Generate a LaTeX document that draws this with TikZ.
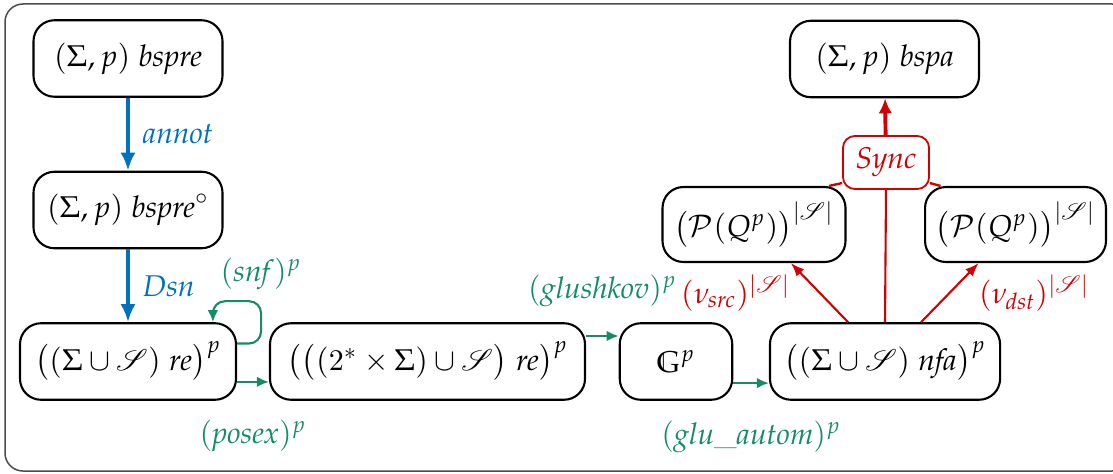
\documentclass[tikz,border=0pt]{standalone}
\usepackage{mathpazo}
\usepackage{amsmath}
\usepackage{amssymb}
\usepackage{mathrsfs}
\usetikzlibrary{arrows.meta}
\definecolor{annotblue}{RGB}{0,114,189}
\definecolor{psgreen}{RGB}{20,140,100}
\definecolor{syncred}{RGB}{210,0,0}
\DeclareMathAlphabet{\mathbbd}{U}{bbold}{m}{n}
\newcommand{\scrS}{\mathscr{S}}
\begin{document}
\begin{tikzpicture}[x=0.3333pt, y=-0.3333pt,
	box/.style={draw, rounded corners=7pt, line width=0.7pt, minimum height=25.5pt, inner sep=2pt},
	syncbox/.style={draw=syncred, text=syncred, rounded corners=4pt, line width=0.6pt, minimum width=28.7pt, minimum height=17.7pt, inner sep=1pt},
	bluearr/.style={annotblue, line width=1.3pt, -{Latex[length=6pt,width=5pt]}},
	greenarr/.style={psgreen, line width=0.7pt, -{Latex[length=4pt,width=3.5pt]}},
	redarr/.style={syncred, line width=0.7pt, -{Latex[length=4.5pt,width=3.5pt]}}]
	\useasboundingbox (0,0) rectangle (1113,473);
	\draw[black!70, line width=0.5pt, rounded corners=6pt] (5,4) rectangle (1130,471);
	% nodes
	\node[box, minimum width=63pt] (bspre) at (128,58.5) {$(\Sigma,p)\;\mathit{bspre}$};
	\node[box, minimum width=63pt] (bsprec) at (128,210) {$(\Sigma,p)\;\mathit{bspre}^{\circ}$};
	\node[box, minimum width=72pt] (re) at (128,361.5) {$\big((\Sigma\cup\scrS)\;\mathit{re}\big)^p$};
	\node[box, minimum width=105pt] (posre) at (427.5,361.5) {$\big(\big((\mathbbd{2}^*\times\Sigma)\cup\scrS\big)\;\mathit{re}\big)^p$};
	\node[box, minimum width=37.5pt] (glu) at (676,361.5) {$\mathbb{G}^p$};
	\node[box, minimum width=76.7pt] (nfa) at (885,361.5) {$\big((\Sigma\cup\scrS)\;\mathit{nfa}\big)^p$};
	\node[box, minimum width=61pt, minimum height=25pt] (pl) at (754,224.5) {$\big(\mathcal{P}(Q^p)\big)^{|\scrS|}$};
	\node[box, minimum width=60.3pt, minimum height=25pt] (pr) at (1015.5,224.5) {$\big(\mathcal{P}(Q^p)\big)^{|\scrS|}$};
	\node[syncbox] (sync) at (886,162.5) {$\mathit{Sync}$};
	\node[box, minimum width=63pt] (bspa) at (884.5,59) {$(\Sigma,p)\;\mathit{bspa}$};
	% blue
	\draw[bluearr] (bspre) -- node[right=1pt] {$\mathit{annot}$} (bsprec);
	\draw[bluearr] (bsprec) -- node[right=1pt] {$\mathit{Dsn}$} (re);
	% green
	\draw[greenarr, rounded corners=4pt] ([yshift=6pt]re.east) -| ([xshift=8pt,yshift=7pt]re.north east) node[above=0pt] {$(\mathit{snf})^p$} -| ([xshift=28.3pt]re.north);
	\draw[greenarr] ([yshift=-6.8pt]re.east) -- node[below=9pt] {$(\mathit{posex})^p$} ([yshift=-6.8pt]posre.west);
	\draw[greenarr] ([yshift=8.5pt]posre.east) -- node[above=6pt] {$(\mathit{glushkov})^p$} ([yshift=8.5pt]glu.west);
	\draw[greenarr] ([yshift=-7.2pt]glu.east) -- node[below=9pt] {$(\mathit{glu\_autom})^p$} ([yshift=-7.2pt]nfa.west);
	% red
	\draw[redarr] ([xshift=-12.3pt]nfa.north) -- node[left=6pt] {$(\nu_{\mathit{src}})^{|\scrS|}$} ([xshift=12.3pt]pl.south);
	\draw[redarr] ([xshift=12pt]nfa.north) -- node[right=6pt] {$(\nu_{\mathit{dst}})^{|\scrS|}$} ([xshift=-12.3pt]pr.south);
	\draw[syncred, line width=0.7pt] (nfa.north) -- (sync.south);
	\draw[syncred, line width=0.8pt] ([xshift=25pt]pl.north) -- ([yshift=2.3pt]sync.south west);
	\draw[syncred, line width=0.8pt] ([xshift=-25pt]pr.north) -- ([yshift=2.3pt]sync.south east);
	\draw[syncred, line width=1.3pt, -{Latex[length=5pt,width=4.5pt]}] (sync) -- (bspa);
\end{tikzpicture}
\end{document}
